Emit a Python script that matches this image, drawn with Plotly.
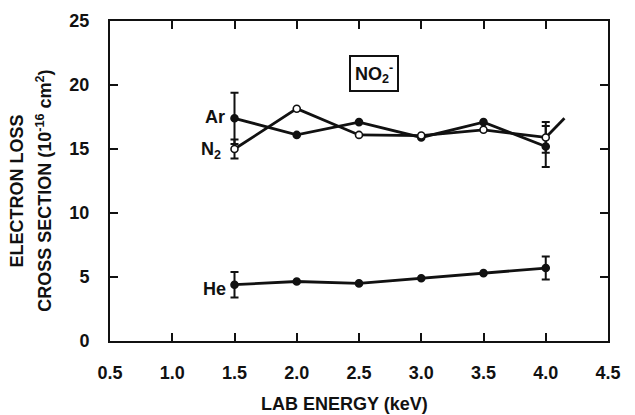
import plotly.graph_objects as go

# Lab energies (keV)
energy = [1.5, 2.0, 2.5, 3.0, 3.5, 4.0]

# Electron loss cross sections (1e-16 cm^2)
ar_sigma = [17.4, 16.1, 17.1, 15.9, 17.1, 15.2]
n2_sigma = [15.0, 18.15, 16.1, 16.05, 16.5, 15.9]
he_sigma = [4.4, 4.65, 4.5, 4.9, 5.3, 5.7]

# N2 curve continues past the last measured point
n2_tail_energy = [4.0, 4.15]
n2_tail_sigma = [15.9, 17.4]

# Error bars at the end points (index into the arrays above)
ar_err_idx = [0, 5]
ar_err = [2.0, 1.6]
n2_err_idx = [0, 5]
n2_err = [0.75, 1.2]
he_err_idx = [0, 5]
he_err = [1.0, 0.9]

x_ticks = [0.5, 1.0, 1.5, 2.0, 2.5, 3.0, 3.5, 4.0, 4.5]
y_ticks = [0, 5, 10, 15, 20, 25]

FONT = "Liberation Sans, Arial, sans-serif"
BLACK = "#111111"
LABEL_FONT = dict(family=FONT, size=18, color=BLACK, weight="bold")
TITLE_FONT = dict(family=FONT, size=18, color=BLACK, weight="bold")

fig = go.Figure()


def add_series(y, fill):
    fig.add_trace(go.Scatter(
        x=energy, y=y, mode="lines+markers",
        line=dict(color=BLACK, width=2.8),
        marker=dict(symbol="circle", size=7, color=fill,
                    line=dict(color=BLACK, width=1.6)),
        showlegend=False, hoverinfo="skip",
    ))


def add_errors(y, idx, err):
    fig.add_trace(go.Scatter(
        x=[energy[i] for i in idx], y=[y[i] for i in idx], mode="markers",
        marker=dict(size=1, color=BLACK),
        error_y=dict(type="data", array=err, visible=True,
                     color=BLACK, thickness=2, width=4),
        showlegend=False, hoverinfo="skip",
    ))


add_errors(ar_sigma, ar_err_idx, ar_err)
add_errors(n2_sigma, n2_err_idx, n2_err)
add_errors(he_sigma, he_err_idx, he_err)

fig.add_trace(go.Scatter(
    x=n2_tail_energy, y=n2_tail_sigma, mode="lines",
    line=dict(color=BLACK, width=2.8), showlegend=False, hoverinfo="skip",
))
add_series(ar_sigma, BLACK)
add_series(n2_sigma, "white")
add_series(he_sigma, BLACK)

axis_common = dict(
    showline=True, linecolor=BLACK, linewidth=2, mirror="ticks",
    ticks="inside", ticklen=8, tickwidth=1.5, tickcolor=BLACK,
    showgrid=False, zeroline=False,
    tickfont=dict(family=FONT, size=18, color=BLACK, weight="bold"),
)

fig.update_xaxes(range=[0.5, 4.5], tickvals=x_ticks,
                 ticktext=[f"{v:.1f}" for v in x_ticks],
                 ticklabelstandoff=14, **axis_common)
fig.update_yaxes(range=[0, 25], tickvals=y_ticks,
                 ticklabelstandoff=15, **axis_common)

fig.update_layout(
    width=635, height=415,
    margin=dict(l=110, r=27, t=21, b=74),
    paper_bgcolor="white", plot_bgcolor="white",
    font=dict(family=FONT, color=BLACK),
)

# Axis titles
fig.add_annotation(x=0.47, y=-0.16, xref="paper", yref="paper",
                   text="LAB ENERGY (keV)", showarrow=False,
                   yanchor="top", xanchor="center", font=TITLE_FONT)
fig.add_annotation(x=-0.187, y=0.47, xref="paper", yref="paper",
                   text="ELECTRON LOSS", textangle=-90, showarrow=False,
                   xanchor="center", yanchor="middle", font=TITLE_FONT)
fig.add_annotation(x=-0.132, y=0.47, xref="paper", yref="paper",
                   text="CROSS SECTION (10<sup>-16</sup> cm<sup>2</sup>)",
                   textangle=-90, showarrow=False,
                   xanchor="center", yanchor="middle", font=TITLE_FONT)

# Series labels
fig.add_annotation(x=1.34, y=17.5, text="Ar", showarrow=False,
                   xanchor="center", font=LABEL_FONT)
fig.add_annotation(x=1.31, y=14.9, text="N<sub>2</sub>", showarrow=False,
                   xanchor="center", font=LABEL_FONT)
fig.add_annotation(x=1.34, y=4.1, text="He", showarrow=False,
                   xanchor="center", font=LABEL_FONT)

# Ion label box
fig.add_annotation(x=2.62, y=20.9, text="NO<sub>2</sub><sup>-</sup>", showarrow=False,
                   xanchor="center", bordercolor=BLACK, borderwidth=2, borderpad=4,
                   bgcolor="white", font=LABEL_FONT)

fig.write_html("out.html")
